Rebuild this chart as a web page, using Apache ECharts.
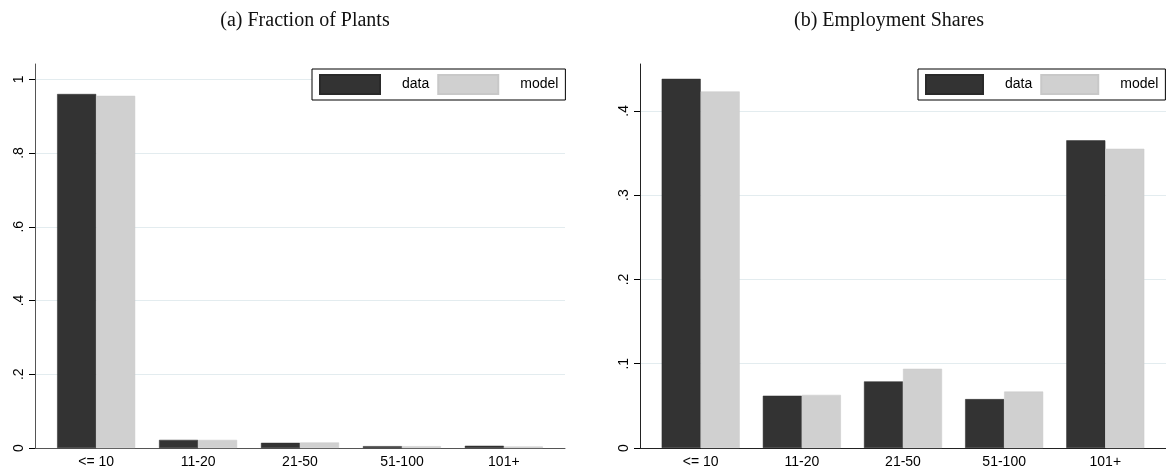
<!DOCTYPE html>
<html>
<head>
<meta charset="utf-8">
<script src="https://cdn.jsdelivr.net/npm/echarts@6/dist/echarts.min.js"></script>
<style>
  html, body { margin: 0; padding: 0; background: #fff; }
  #chart { width: 1166px; height: 469px; }
</style>
</head>
<body>
<div id="chart"></div>
<script>
// Plant size classes (employees per plant)
const sizeClasses = ['<= 10', '11-20', '21-50', '51-100', '101+'];

// (a) Fraction of plants in each size class
const plantsData  = [0.960, 0.022, 0.014, 0.005, 0.006];
const plantsModel = [0.955, 0.022, 0.015, 0.005, 0.004];

// (b) Employment share of each size class
const employData  = [0.438, 0.062, 0.079, 0.058, 0.365];
const employModel = [0.423, 0.063, 0.094, 0.067, 0.355];

// Y tick values for each panel
const plantsTicks = [0, 0.2, 0.4, 0.6, 0.8, 1];
const employTicks = [0, 0.1, 0.2, 0.3, 0.4];

const panelTitles = ['(a) Fraction of Plants', '(b) Employment Shares'];
const seriesNames = ['data', 'model'];

const DARK = '#333333';
const LIGHT = '#d0d0d0';

// Stata-style tick labels: drop the leading zero
function shortNum(v) {
  const s = String(Math.round(v * 10) / 10);
  return s.replace(/^0(?=\.)/, '');
}

const pairs = (vals) => vals.map((v, i) => [i, v]);

const chart = echarts.init(document.getElementById('chart'), null, { renderer: 'canvas' });

const grids = [
  { left: 35,  top: 64, width: 530, height: 385 },
  { left: 640, top: 64, width: 530, height: 385 }
];

function xAxisFor(gridIndex, lineColor) {
  return {
    type: 'value', gridIndex, min: -0.6, max: 4.6,
    axisLine: { show: true, onZero: false, lineStyle: { color: lineColor, width: 1 } },
    axisTick: { show: false },
    splitLine: { show: false },
    axisLabel: {
      customValues: sizeClasses.map((_, i) => i),
      formatter: (v) => sizeClasses[Math.round(v)],
      color: '#000', fontFamily: 'Liberation Sans', fontSize: 14, margin: 7
    }
  };
}

function yAxisFor(gridIndex, max, ticks, lineColor) {
  return {
    type: 'value', gridIndex, min: 0, max,
    axisLine: { show: true, onZero: false, lineStyle: { color: lineColor, width: 1 } },
    axisTick: { show: true, inside: false, length: 6, customValues: ticks,
                lineStyle: { color: '#000', width: 1 } },
    splitLine: { show: true, lineStyle: { color: '#e3ecef', width: 1 } },
    axisLabel: {
      customValues: ticks,
      formatter: shortNum,
      rotate: 90,
      color: '#000', fontFamily: 'Liberation Sans', fontSize: 14, margin: 9
    }
  };
}

function barSeries(name, vals, idx, color) {
  return {
    type: 'bar', name, data: pairs(vals),
    xAxisIndex: idx, yAxisIndex: idx,
    barWidth: 39, barGap: '0%',
    itemStyle: { color, borderColor: name === 'data' ? '#2a2a2a' : '#c8c8c8', borderWidth: 0.5 },
    emphasis: { disabled: true },
    animation: false
  };
}

function legendFor(left, itemWidth) {
  return {
    left, top: 69, orient: 'horizontal',
    data: seriesNames,
    icon: 'rect', itemWidth, itemHeight: 19, itemGap: 8,
    padding: [5, 7, 5, 7],
    borderColor: '#000', borderWidth: 1, backgroundColor: '#fff',
    textStyle: { fontFamily: 'Liberation Sans', fontSize: 14, color: '#000', padding: [0, 0, 0, 17] },
    selectedMode: false
  };
}

chart.setOption({
  animation: false,
  color: [DARK, LIGHT],
  title: [
    { text: panelTitles[0], left: 300, top: 6, textAlign: 'center',
      textStyle: { fontFamily: 'Liberation Serif', fontSize: 20, fontWeight: 'normal', color: '#111' } },
    { text: panelTitles[1], left: 884, top: 6, textAlign: 'center',
      textStyle: { fontFamily: 'Liberation Serif', fontSize: 20, fontWeight: 'normal', color: '#111' } }
  ],
  legend: [legendFor(312, 60), legendFor(918, 57)],
  grid: grids,
  xAxis: [xAxisFor(0, '#555'), xAxisFor(1, '#222')],
  yAxis: [yAxisFor(0, 1.0414, plantsTicks, '#555'), yAxisFor(1, 0.4556, employTicks, '#222')],
  series: [
    barSeries('data',  plantsData,  0, DARK),
    barSeries('model', plantsModel, 0, LIGHT),
    barSeries('data',  employData,  1, DARK),
    barSeries('model', employModel, 1, LIGHT)
  ]
});
</script>
</body>
</html>
